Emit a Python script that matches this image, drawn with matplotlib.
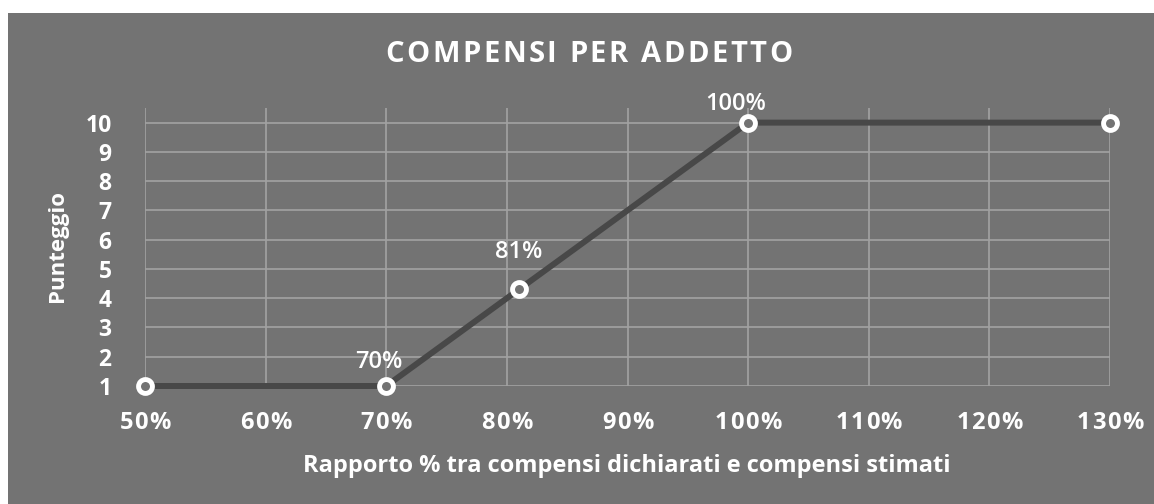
import matplotlib.pyplot as plt
from matplotlib.patches import Rectangle
from matplotlib.transforms import IdentityTransform

plt.rcParams['font.family'] = ['Open Sans', 'DejaVu Sans']

# data
rapporto = [50, 70, 81, 100, 130]
punteggio = [1, 1, 4.3, 10, 10]
etichette = ['', '70%', '81%', '100%', '']
x_ticks = [50, 60, 70, 80, 90, 100, 110, 120, 130]
y_ticks = [1, 2, 3, 4, 5, 6, 7, 8, 9, 10]

# label offsets in points (style only)
label_off = [(0, 0), (-5, 9), (0, 18), (-9, 5), (0, 0)]

bg = '#737373'
grid = '#a2a2a2'
W, H = 1154, 504

fig = plt.figure(figsize=(W / 100, H / 100), dpi=100, facecolor='white')
fig.patches.append(Rectangle((8 / W, 0), 1, 1 - 13 / H, transform=fig.transFigure,
                             facecolor=bg, edgecolor='none', zorder=-1))

ax = fig.add_axes([145 / W, 1 - 386 / H, (1110 - 145) / W, (386 - 108) / H])
ax.patch.set_alpha(0)


def tracked(x, y, s, spacing, **kw):
    # draw text char by char in pixel coords, centred on (x, y), with extra spacing
    r = fig.canvas.get_renderer()
    widths = []
    for ch in s:
        t = fig.text(0, 0, ch, **kw)
        widths.append(t.get_window_extent(r).width)
        t.remove()
    total = sum(widths) + spacing * (len(s) - 1)
    cx = x - total / 2
    for ch, w in zip(s, widths):
        fig.text(cx, y, ch, transform=IdentityTransform(), ha='left', va='center', **kw)
        cx += w + spacing


ax.plot(rapporto, punteggio, color='#484848', lw=4.3, solid_capstyle='butt', zorder=3,
        marker='o', ms=10, mfc=bg, mec='white', mew=3.5, clip_on=False)

for (x, y, t), off in zip(zip(rapporto, punteggio, etichette), label_off):
    if t:
        ax.annotate(t, (x, y), xytext=off, textcoords='offset points',
                    ha='center', va='bottom', color='white', fontsize=17,
                    fontweight='semibold', zorder=4)

ax.set_xlim(50, 130)
ax.set_ylim(1, 10.5)
ax.set_xticks(x_ticks)
ax.set_xticklabels([])
ax.set_yticks(y_ticks)

ax.grid(True, color=grid, lw=1.2)
ax.set_axisbelow(True)
for s in ax.spines.values():
    s.set_visible(False)
ax.tick_params(length=0, colors='white')
ax.tick_params(axis='y', labelsize=16.5, pad=24)
for lab in ax.get_yticklabels():
    lab.set_fontweight('bold')

# x tick labels with letter spacing
for v in x_ticks:
    px, _ = ax.transData.transform((v, 1))
    tracked(px, H - 423, f'{v}%', 1.5, color='white', fontsize=17, fontweight='bold')

fig.text(627 / W, 1 - 466 / H, 'Rapporto % tra compensi dichiarati e compensi stimati',
         color='white', fontsize=17, fontweight='bold', ha='center', va='center')
fig.text(57 / W, 1 - 246 / H, 'Punteggio', color='white', fontsize=16, fontweight='bold',
         ha='center', va='center', rotation=90)

tracked(589, H - 55, 'COMPENSI PER ADDETTO', 2.5, color='white', fontsize=21,
        fontweight='bold')

fig.savefig('out.png', dpi=100, facecolor='white')
